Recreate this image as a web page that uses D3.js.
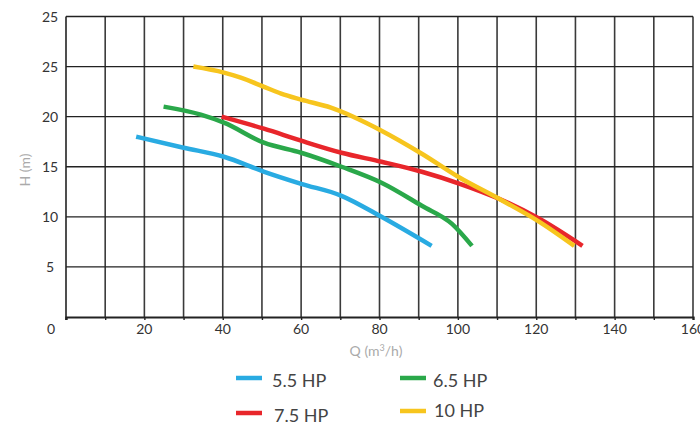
<!DOCTYPE html>
<html><head><meta charset="utf-8">
<script src="https://cdn.jsdelivr.net/npm/d3@7"></script>
<style>body{margin:0;background:#fff}svg{display:block}text{font-family:Lato,"Open Sans",sans-serif}</style>
</head><body>
<svg id="c" width="700" height="423"></svg>
<script>
const seriesNames = ["5.5 HP", "6.5 HP", "7.5 HP", "10 HP"];
const seriesColors = ["#29abe2", "#2aa84a", "#e8262b", "#f7c51e"];
const q55 = [17.9, 30, 40.3, 50.6, 60, 70.3, 80.5, 93.3];
const h55 = [18.0, 16.9, 16.0, 14.5, 13.3, 12.1, 10.0, 7.1];
const q65 = [24.9, 34.4, 40.3, 50.5, 60, 70.3, 80.5, 90.8, 98.5, 103.6];
const h65 = [21.0, 20.2, 19.4, 17.4, 16.4, 15.0, 13.4, 11.1, 9.3, 7.1];
const q75 = [39.7, 50.5, 60, 70.3, 80.5, 90.8, 100.5, 110.5, 120.8, 131.8];
const h75 = [20.0, 18.8, 17.6, 16.4, 15.5, 14.5, 13.3, 11.8, 9.8, 7.1];
const q10 = [32.5, 40.3, 44.6, 50.4, 54.9, 60, 67.6, 80.5, 90.8, 100.5, 110.5, 120.8, 129.7];
const h10 = [25.0, 24.4, 23.9, 23.0, 22.3, 21.7, 20.9, 18.6, 16.3, 13.9, 11.8, 9.5, 7.1];
const xTicks = [0, 20, 40, 60, 80, 100, 120, 140, 160];
const yTickValues = [5, 10, 15, 20, 25, 30];
const yTickLabels = ["5", "10", "15", "20", "25", "25"];

const series = [[q55,h55],[q65,h65],[q75,h75],[q10,h10]].map((d,i)=>({
  name: seriesNames[i], color: seriesColors[i], pts: d[0].map((q,j)=>[q,d[1][j]])
}));

const svg = d3.select("#c");
const x = d3.scaleLinear().domain([0,160]).range([66,693]);
const y = d3.scaleLinear().domain([0,30]).range([317,16.5]);

const g = svg.append("g");
// vertical grid
g.selectAll("line.v").data(d3.range(10,161,10)).join("line")
  .attr("x1",d=>x(d)).attr("x2",d=>x(d)).attr("y1",y(30)).attr("y2",y(0))
  .attr("stroke","#3a3a3a").attr("stroke-width",1.6);
// horizontal grid
g.selectAll("line.h").data(d3.range(5,31,5)).join("line")
  .attr("x1",x(0)).attr("x2",x(160)).attr("y1",d=>y(d)).attr("y2",d=>y(d))
  .attr("stroke","#222").attr("stroke-width",1.3);
// left axis
g.append("line").attr("x1",x(0)).attr("x2",x(0)).attr("y1",y(30)).attr("y2",y(0)+3)
  .attr("stroke","#222").attr("stroke-width",1.6);

// bottom axis
const xAxis = d3.axisBottom(x).tickValues(d3.range(0,161,10)).tickSize(3).tickFormat("");
const xa = svg.append("g").attr("transform",`translate(0,${y(0)})`).call(xAxis);
xa.select(".domain").attr("stroke","#222").attr("stroke-width",2.2);
xa.selectAll(".tick line").attr("stroke","#222").attr("stroke-width",1.4);

svg.append("g").selectAll("text").data(xTicks).join("text")
  .attr("x",d=>d===0 ? x(0)-15 : x(d)).attr("y",334)
  .attr("text-anchor","middle").attr("font-size",14).attr("fill","#333")
  .text(d=>d);

svg.append("g").selectAll("text").data(yTickValues).join("text")
  .attr("x",50).attr("y",(d)=>y(d)+5)
  .attr("text-anchor","middle").attr("font-size",14).attr("fill","#333")
  .text((d,i)=>yTickLabels[i]);

// axis titles
const xt = svg.append("text").attr("x",376).attr("y",356).attr("text-anchor","middle")
  .attr("font-size",14).attr("fill","#aaa");
xt.append("tspan").text("Q (m");
xt.append("tspan").attr("font-size",9).attr("dy",-5).text("3");
xt.append("tspan").attr("dy",5).text("/h)");
svg.append("text").attr("transform","translate(30,170) rotate(-90)").attr("text-anchor","middle")
  .attr("font-size",14).attr("fill","#aaa").text("H (m)");

// curves
const line = d3.line().x(d=>x(d[0])).y(d=>y(d[1])).curve(d3.curveMonotoneX);
svg.append("g").selectAll("path").data(series).join("path")
  .attr("d",d=>line(d.pts)).attr("fill","none").attr("stroke",d=>d.color)
  .attr("stroke-width",4.5).attr("stroke-linecap","butt");

// legend
const legPos = [[236,378,272,387],[400,378,433,387],[236,413,274,422],[400,411,434,417]];
const leg = svg.append("g").selectAll("g").data(series).join("g");
leg.append("line").attr("x1",(d,i)=>legPos[i][0]).attr("x2",(d,i)=>legPos[i][0]+26)
  .attr("y1",(d,i)=>legPos[i][1]).attr("y2",(d,i)=>legPos[i][1])
  .attr("stroke",d=>d.color).attr("stroke-width",4.5);
leg.append("text").attr("x",(d,i)=>legPos[i][2]).attr("y",(d,i)=>legPos[i][3])
  .attr("font-size",18).attr("fill","#444").text(d=>d.name);
</script>
</body></html>
